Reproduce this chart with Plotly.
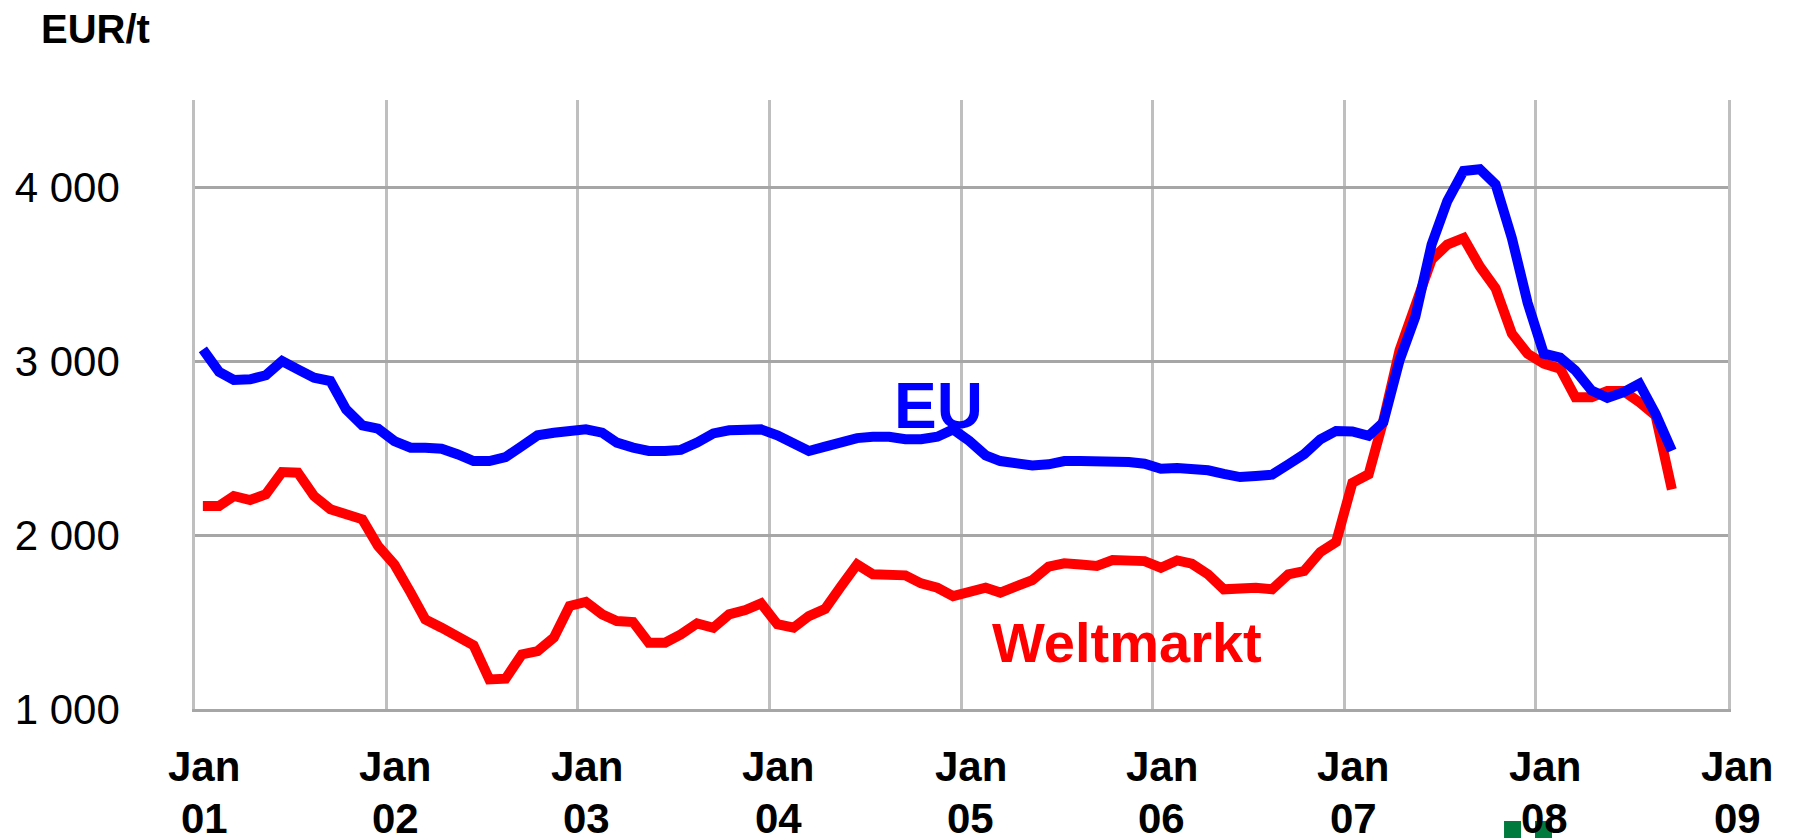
import plotly.graph_objects as go

# ---- data (monthly, Jan 2001 - Sep 2008), EUR/t ----
years = list(range(2001, 2009))
months = [f"{y}-{m:02d}-16" for y in years for m in range(1, 13)][:93]

eu_price = [
    3067, 2937, 2891, 2895, 2918, 3000, 2952, 2904, 2885, 2722, 2630, 2611,
    2540, 2502, 2502, 2496, 2464, 2425, 2425, 2448, 2511, 2573, 2588, 2603,
    2607, 2588, 2531, 2502, 2483, 2483, 2489, 2531, 2584, 2602, 2602, 2607,
    2573, 2531, 2483, 2508, 2534, 2557, 2565, 2565, 2550, 2550, 2565, 2607,
    2540, 2458, 2425, 2406, 2400, 2406, 2425, 2425, 2425, 2431, 2420, 2410,
    2381, 2385, 2385, 2372, 2351, 2333, 2339, 2347, 2406, 2464, 2550, 2598,
    2595, 2570, 2647, 3004, 3254, 3669, 3919, 4092, 4102, 4015, 3707, 3335,
    3042, 3019, 2946, 2830, 2788, 2821, 2869, 2696, 2484,
]

world_price = [
    2167, 2167, 2224, 2201, 2234, 2362, 2358, 2224, 2148, 2113, 2090, 1937,
    1831, 1669, 1515, 1467, 1420, 1366, 1170, 1174, 1314, 1333, 1410, 1592,
    1615, 1544, 1506, 1500, 1381, 1381, 1429, 1492, 1467, 1544, 1569, 1607,
    1487, 1467, 1534, 1575, 1703, 1831, 1774, 1774, 1768, 1722, 1697, 1649,
    1678, 1697, 1669, 1707, 1741, 1818, 1837, 1831, 1822, 1856, 1850, 1850,
    1812, 1854, 1835, 1774, 1688, 1697, 1697, 1688, 1774, 1793, 1902, 1960,
    2300, 2349, 2657, 3062, 3312, 3582, 3669, 3707, 3543, 3418, 3158, 3042,
    2985, 2956, 2792, 2792, 2827, 2827, 2763, 2686, 2262,
]

tick_dates = [f"{y}-01-01" for y in range(2001, 2010)]
tick_years = ["01", "02", "03", "04", "05", "06", "07", "08", "09"]
y_ticks = [1000, 2000, 3000, 4000]
y_ticktext = ["1 000", "2 000", "3 000", "4 000"]

FONT = "Liberation Sans, Arial, sans-serif"

fig = go.Figure()
fig.add_trace(go.Scatter(x=months, y=world_price, mode="lines",
                         line=dict(color="#FF0000", width=10), name="Weltmarkt"))
fig.add_trace(go.Scatter(x=months, y=eu_price, mode="lines",
                         line=dict(color="#0000FF", width=10), name="EU"))

annotations = []
for d, yy in zip(tick_dates, tick_years):
    annotations.append(dict(x=d, xref="x", y=-0.0952, yref="paper", text="<b>Jan</b>",
                            showarrow=False, xanchor="center", yanchor="middle", xshift=9,
                            font=dict(family=FONT, size=42, color="black")))
    annotations.append(dict(x=d, xref="x", y=-0.179, yref="paper", text=f"<b>{yy}</b>",
                            showarrow=False, xanchor="center", yanchor="middle", xshift=9,
                            font=dict(family=FONT, size=42, color="black")))

annotations += [
    dict(x=-0.1018, y=1.1174, xref="paper", yref="paper", text="<b>EUR/t</b>",
         showarrow=False, xanchor="left", yanchor="middle",
         font=dict(family=FONT, size=40, color="black")),
    dict(x=0.4547, y=0.4975, xref="paper", yref="paper", text="<b>EU</b>",
         showarrow=False, xanchor="left", yanchor="middle",
         font=dict(family=FONT, size=64, color="#0000FF")),
    dict(x=0.5186, y=0.1084, xref="paper", yref="paper", text="<b>Weltmarkt</b>",
         showarrow=False, xanchor="left", yanchor="middle",
         font=dict(family=FONT, size=56, color="#FF0000")),
]

shapes = [
    dict(type="rect", xref="paper", yref="paper", x0=0.8539, x1=0.8650, y0=-0.25, y1=-0.1839,
         fillcolor="#007A3D", line=dict(width=0), layer="above"),
    dict(type="rect", xref="paper", yref="paper", x0=0.8741, x1=0.8852, y0=-0.25, y1=-0.1839,
         fillcolor="#007A3D", line=dict(width=0), layer="above"),
]

# page body has an 8px margin: the figure is sized so that it ends at the window edges
fig.update_layout(
    width=1785, height=830,
    margin=dict(l=187, r=65, t=92, b=129, autoexpand=False),
    paper_bgcolor="white", plot_bgcolor="white",
    showlegend=False,
    annotations=annotations,
    shapes=shapes,
    font=dict(family=FONT, color="black"),
    xaxis=dict(type="date", range=["2001-01-01", "2009-01-01"], tick0="2001-01-01",
               dtick="M12", showticklabels=False, showgrid=True, gridcolor="#BFBFBF",
               gridwidth=2.5, showline=True, linecolor="#A6A6A6", linewidth=3,
               zeroline=False, ticks="", automargin=False),
    yaxis=dict(range=[1000, 4500], tickvals=y_ticks, ticktext=y_ticktext,
               tickfont=dict(family=FONT, size=42, color="black"),
               showgrid=True, gridcolor="#A6A6A6", gridwidth=3,
               showline=True, mirror=True, linecolor="#BFBFBF", linewidth=2.5,
               zeroline=False, ticks="", ticklabelstandoff=64, automargin=False),
)

fig.write_html("out.html")
